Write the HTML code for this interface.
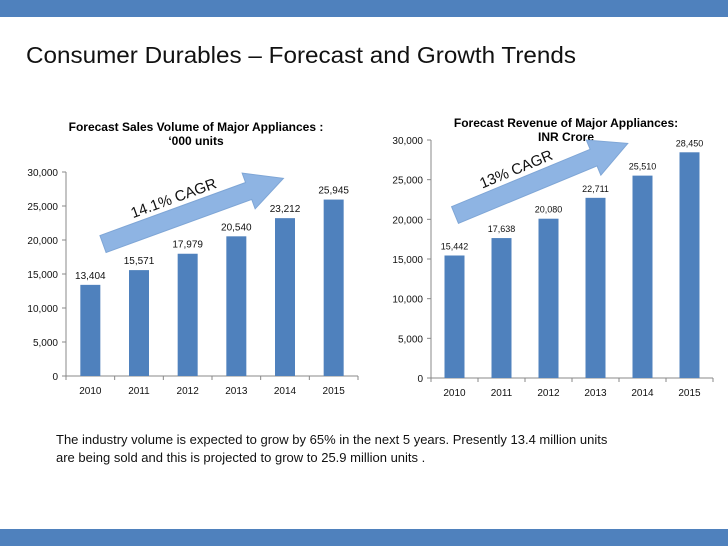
<!DOCTYPE html>
<html><head><meta charset="utf-8"><style>
html,body{margin:0;padding:0;background:#fff;}
svg{display:block;font-family:"Liberation Sans",Arial,sans-serif;}
</style></head><body>
<svg id="s" width="728" height="546" viewBox="0 0 728 546">
<rect x="0" y="0" width="728" height="17" fill="#4f81bd"/>
<rect x="0" y="529" width="728" height="17" fill="#4f81bd"/>
<text x="26" y="63" font-size="23" fill="#111" textLength="550" lengthAdjust="spacingAndGlyphs">Consumer Durables – Forecast and Growth Trends</text>
<text x="196" y="131" font-size="12" font-weight="bold" text-anchor="middle">Forecast Sales Volume of Major Appliances :</text>
<text x="196" y="145" font-size="12" font-weight="bold" text-anchor="middle">‘000 units</text>
<text x="566" y="127" font-size="12" font-weight="bold" text-anchor="middle">Forecast Revenue of Major Appliances:</text>
<text x="566" y="141" font-size="12" font-weight="bold" text-anchor="middle">INR Crore</text>
<g id="left"></g>
<g id="right"></g>
<g transform="translate(103,244) rotate(-20)">
<polygon points="0,-9 155,-9 155,-19 192,0 155,19 155,9 0,9" fill="#8eb4e3" stroke="#7fa6d6"/>
<text x="82" y="-14" font-size="15" text-anchor="middle" fill="#111">14.1% CAGR</text>
</g>
<g transform="translate(455,215) rotate(-22.5)">
<polygon points="0,-9 150,-9 150,-19 187,0 150,19 150,9 0,9" fill="#8eb4e3" stroke="#7fa6d6"/>
<text x="74" y="-14" font-size="15" text-anchor="middle" fill="#111">13% CAGR</text>
</g>
<text x="56" y="444" font-size="13" fill="#111">The industry volume is expected to grow by 65% in the next 5 years. Presently 13.4 million units</text>
<text x="56" y="462" font-size="13" fill="#111">are being sold and this is projected to grow to 25.9 million units .</text>
</svg>
<script>
const categories=["2010","2011","2012","2013","2014","2015"];
const volumeValues=[13404,15571,17979,20540,23212,25945];
const revenueValues=[15442,17638,20080,22711,25510,28450];
const yTicks=[0,5000,10000,15000,20000,25000,30000];
const NS="http://www.w3.org/2000/svg";
function mk(t,a,p){const e=document.createElementNS(NS,t);for(const k in a)e.setAttribute(k,a[k]);p.appendChild(e);return e;}
function fmt(v){return v.toLocaleString("en-US");}
function draw(g,vals,x0,x1,y0,y1,max,tag,lblSize){
  const y=v=>y0-(v/max)*(y0-y1);
  const cw=(x1-x0)/categories.length;
  const ax=mk("line",{x1:x0,y1:y0,x2:x1,y2:y0,stroke:"#888"},g);
  
  
  const ay=mk("line",{x1:x0,y1:y0,x2:x0,y2:y(max),stroke:"#888"},g);
  
  
  yTicks.forEach(t=>{
    mk("line",{x1:x0-4,y1:y(t),x2:x0,y2:y(t),stroke:"#888"},g);
    const tx=mk("text",{x:x0-8,y:y(t)+4,"font-size":10,"text-anchor":"end",fill:"#111"},g);
    tx.textContent=fmt(t);
    
    
  });
  for(let i=0;i<=categories.length;i++)mk("line",{x1:x0+i*cw,y1:y0,x2:x0+i*cw,y2:y0+4,stroke:"#888"},g);
  categories.forEach((c,i)=>{
    const cx=x0+cw*(i+0.5);
    const b=mk("rect",{x:cx-10,y:y(vals[i]),width:20,height:y0-y(vals[i]),fill:"#4f81bd"},g);
    
    
    const l=mk("text",{x:cx,y:y(vals[i])-6,"font-size":lblSize,"text-anchor":"middle",fill:"#111"},g);
    l.textContent=fmt(vals[i]);
    
    
    const xl=mk("text",{x:cx,y:y0+18,"font-size":10,"text-anchor":"middle",fill:"#111"},g);
    xl.textContent=c;
    
    
  });
}
draw(document.getElementById("left"),volumeValues,66,358,376,172,30000,"volume",10);
draw(document.getElementById("right"),revenueValues,431,713,378,140,30000,"revenue",9);
</script>
</body></html>
